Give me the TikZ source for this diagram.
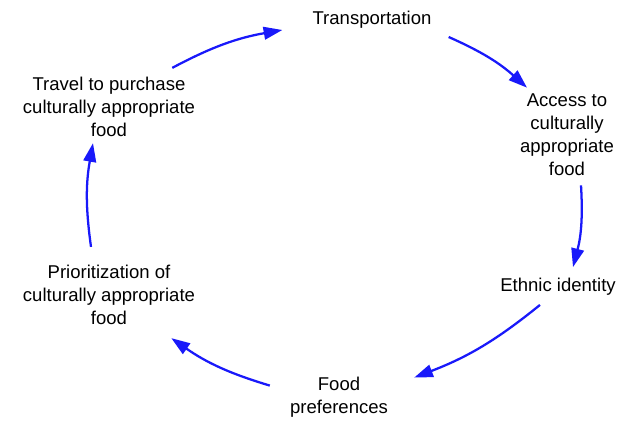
\documentclass[tikz,border=0pt]{standalone}
\usepackage{fontspec}
\setmainfont{Liberation Sans}
\usetikzlibrary{arrows.meta, positioning}
\definecolor{loopblue}{RGB}{25,25,250}
\tikzset{
    factor/.style={
        align=center, inner sep=0pt, text=black,
        font=\fontsize{13.9}{17.3}\selectfont
    },
    link/.style={
        draw=loopblue, line width=1.7pt,
        -{Triangle[length=14pt, width=9.5pt]}, bend left=9
    }
}
\begin{document}
\begin{tikzpicture}[x=0.75pt, y=0.75pt]
\useasboundingbox (0,0) rectangle (627,-421);

% Factors around the loop
\node[factor] (transport) at (372,-20) {Transportation};
\node[factor] (access) at (567,-135) {Access to\\culturally\\appropriate\\food};
\node[factor] (ethnic) at (558,-287) {Ethnic identity};
\node[factor] (prefs) at (339,-397) {Food\\preferences};
\node[factor] (prior) at (109,-295) {Prioritization of\\culturally appropriate\\food};
\node[factor] (travel) at (109,-107) {Travel to purchase\\culturally appropriate\\food};

% Loop arrows
\draw[link] ([shift={(17,-17)}]transport.east) to ([shift={(-40,6)}]access.north);
\draw[link] ([shift={(14,-9)}]access.south) to ([shift={(15,11)}]ethnic.north);
\draw[link] ([shift={(-18,-9)}]ethnic.south) to ([shift={(26,-1)}]prefs.north east);
\draw[link] ([shift={(-20,-9)}]prefs.north west) to ([shift={(-24,-13)}]prior.south east);
\draw[link] ([shift={(-18,18)}]prior.north) to ([shift={(-16,-6)}]travel.south);
\draw[link] ([shift={(-23,9)}]travel.north east) to ([shift={(-30,-10)}]transport.west);

\end{tikzpicture}
\end{document}
